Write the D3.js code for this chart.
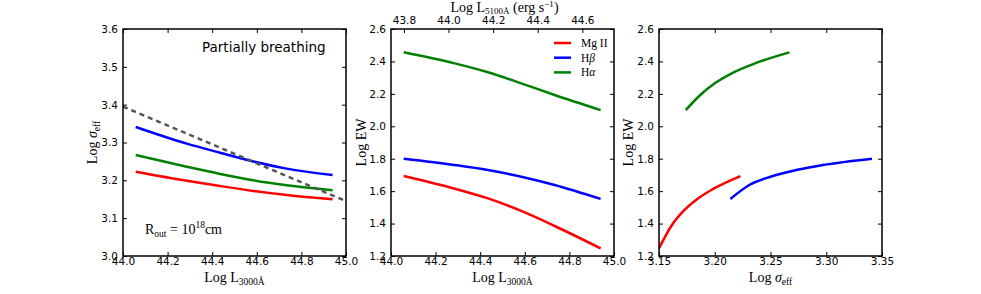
<!DOCTYPE html>
<html>
<head>
<meta charset="utf-8">
<script src="https://cdn.jsdelivr.net/npm/d3@7"></script>
<style>
  body { margin: 0; background: #fff; }
  .tick text { font-family: "DejaVu Sans", sans-serif; font-size: 10.5px; fill: #000; }
  .tick line { stroke: #000; stroke-width: 1; }
  .lbl { font-family: "Liberation Serif", serif; fill: #000; }
</style>
</head>
<body>
<div id="chart"></div>
<script>
// shared luminosity grid (Log L3000)
var logL = [44.057, 44.286, 44.435, 44.584, 44.734, 44.94];

// Log sigma_eff for each line
var sigmaMg = [3.223, 3.199, 3.185, 3.172, 3.161, 3.150];
var sigmaHb = [3.341, 3.297, 3.273, 3.250, 3.231, 3.214];
var sigmaHa = [3.267, 3.236, 3.217, 3.200, 3.187, 3.174];

// Log EW for each line
var ewMg = [1.693, 1.615, 1.555, 1.478, 1.385, 1.247];
var ewHb = [1.800, 1.761, 1.730, 1.689, 1.638, 1.552];
var ewHa = [2.456, 2.388, 2.333, 2.265, 2.193, 2.100];

// dashed reference relation in panel 1
var dashL = [44.0, 45.0];
var dashSigma = [3.395, 3.145];

var lineNames = ["Mg II", "H\u03b2", "H\u03b1"];
var lineColors = ["#ff0000", "#0000ff", "#008000"];

var ticksL = [44.0, 44.2, 44.4, 44.6, 44.8, 45.0];
var ticksL5100 = [43.8, 44.0, 44.2, 44.4, 44.6];
var ticksSigmaY = [3.0, 3.1, 3.2, 3.3, 3.4, 3.5, 3.6];
var ticksEW = [1.2, 1.4, 1.6, 1.8, 2.0, 2.2, 2.4, 2.6];
var ticksSigmaX = [3.15, 3.20, 3.25, 3.30, 3.35];

var W = 981, H = 294;
var top0 = 29, ph = 227, pw = 223;
var lefts = [123, 391, 659];

var svg = d3.select("#chart").append("svg")
    .attr("width", W)
    .attr("height", H);

var sigmas = [sigmaMg, sigmaHb, sigmaHa];
var ews = [ewMg, ewHb, ewHa];

function panel(i, xDom, yDom) {
    var g = svg.append("g").attr("transform", "translate(" + lefts[i] + "," + top0 + ")");
    var x = d3.scaleLinear().domain(xDom).range([0, pw]);
    var y = d3.scaleLinear().domain(yDom).range([ph, 0]);
    g.append("clipPath").attr("id", "clip" + i)
      .append("rect").attr("width", pw).attr("height", ph);
    return {g: g, x: x, y: y};
}

function axes(p, xt, yt, xf, yf, topTicks) {
    p.g.append("g")
        .attr("transform", "translate(0," + ph + ")")
        .call(d3.axisBottom(p.x).tickValues(xt).tickSize(-4).tickPadding(2).tickFormat(xf))
        .call(function(a) { a.select(".domain").remove(); });
    p.g.append("g")
        .call(d3.axisLeft(p.y).tickValues(yt).tickSize(-4).tickPadding(5).tickFormat(yf))
        .call(function(a) { a.select(".domain").remove(); });
    if (topTicks) {
        p.g.append("g")
            .call(d3.axisTop(p.x).tickValues(xt).tickSize(-4).tickFormat(""))
            .call(function(a) { a.select(".domain").remove(); });
    }
    p.g.append("g")
        .attr("transform", "translate(" + pw + ",0)")
        .call(d3.axisRight(p.y).tickValues(yt).tickSize(-4).tickFormat(""))
        .call(function(a) { a.select(".domain").remove(); });
}

function frame(p) {
    p.g.append("rect")
        .attr("width", pw).attr("height", ph)
        .attr("fill", "none")
        .attr("stroke", "#000")
        .attr("stroke-width", 1.5);
}

function curve(p, i, xs, ys, color) {
    var pts = xs.map(function(v, k) { return [v, ys[k]]; })
        .sort(function(a, b) { return a[0] - b[0]; });
    var line = d3.line()
        .x(function(d) { return p.x(d[0]); })
        .y(function(d) { return p.y(d[1]); })
        .curve(d3.curveMonotoneX);
    p.g.append("path")
        .attr("clip-path", "url(#clip" + i + ")")
        .attr("d", line(pts))
        .attr("fill", "none")
        .attr("stroke", color)
        .attr("stroke-width", 2.5);
}

// label with subscript, e.g. "Log L" + "3000Å"
function subLabel(sel, main, sub) {
    sel.append("tspan").text(main);
    sel.append("tspan").attr("dy", 3).attr("font-size", 9.5).text(sub);
}

var f1 = d3.format(".1f"), f2 = d3.format(".2f");

// ---- panel 1: sigma vs L3000
var p1 = panel(0, [44.0, 45.0], [3.0, 3.6]);
sigmas.forEach(function(s, k) { curve(p1, 0, logL, s, lineColors[k]); });
p1.g.append("path")
    .attr("d", d3.line()(dashL.map(function(v, k) { return [p1.x(v), p1.y(dashSigma[k])]; })))
    .attr("fill", "none")
    .attr("stroke", "#555")
    .attr("stroke-width", 2.5)
    .attr("stroke-dasharray", "5,4");
axes(p1, ticksL, ticksSigmaY, f1, f1, true);
frame(p1);

p1.g.append("text")
    .attr("x", 79).attr("y", 23)
    .attr("font-family", "DejaVu Sans, sans-serif")
    .attr("font-size", 13.5)
    .text("Partially breathing");

var rt = p1.g.append("text").attr("class", "lbl")
    .attr("x", 22).attr("y", 205)
    .attr("font-size", 14);
rt.append("tspan").text("R");
rt.append("tspan").attr("dy", 3).attr("font-size", 9.5).text("out");
rt.append("tspan").attr("dy", -3).text(" = 10");
rt.append("tspan").attr("dy", -6).attr("font-size", 9.5).text("18");
rt.append("tspan").attr("dy", 6).text("cm");

// ---- panel 2: EW vs L3000
var p2 = panel(1, [44.0, 45.0], [1.2, 2.6]);
ews.forEach(function(e, k) { curve(p2, 1, logL, e, lineColors[k]); });
axes(p2, ticksL, ticksEW, f1, f1, false);
var x5100 = d3.scaleLinear().domain([43.742, 44.742]).range([0, pw]);
p2.g.append("g")
    .call(d3.axisTop(x5100).tickValues(ticksL5100).tickSize(-4).tickPadding(5).tickFormat(f1))
    .call(function(a) { a.select(".domain").remove(); });
frame(p2);

// legend
var leg = p2.g.append("g").attr("transform", "translate(163,14)");
lineNames.forEach(function(n, k) {
    leg.append("line")
        .attr("x1", 0).attr("x2", 17)
        .attr("y1", k * 14.7).attr("y2", k * 14.7)
        .attr("stroke", lineColors[k]).attr("stroke-width", 2.5);
    var t = leg.append("text").attr("class", "lbl")
        .attr("x", 27).attr("y", k * 14.7 + 4)
        .attr("font-size", 11.5);
    if (k === 0) t.text(n);
    else {
        t.append("tspan").text("H");
        t.append("tspan").attr("font-style", "italic").text(n.slice(1));
    }
});

// top axis title
var tt = svg.append("text").attr("class", "lbl")
    .attr("x", lefts[1] + pw / 2 + 2).attr("y", 12)
    .attr("text-anchor", "middle")
    .attr("font-size", 14);
tt.append("tspan").text("Log L");
tt.append("tspan").attr("dy", 2).attr("font-size", 9).text("5100\u00c5");
tt.append("tspan").attr("dy", -2).text(" (erg s");
tt.append("tspan").attr("dy", -5).attr("font-size", 9).text("\u22121");
tt.append("tspan").attr("dy", 5).text(")");

// ---- panel 3: EW vs sigma
var p3 = panel(2, [3.15, 3.35], [1.2, 2.6]);
ews.forEach(function(e, k) { curve(p3, 2, sigmas[k], e, lineColors[k]); });
axes(p3, ticksSigmaX, ticksEW, f2, f1, true);
frame(p3);

// axis titles
[0, 1].forEach(function(i) {
    var t = svg.append("text").attr("class", "lbl")
        .attr("x", lefts[i] + pw / 2).attr("y", 282)
        .attr("text-anchor", "middle")
        .attr("font-size", 14);
    subLabel(t, "Log L", "3000\u00c5");
});
var xs3 = svg.append("text").attr("class", "lbl")
    .attr("x", lefts[2] + pw / 2).attr("y", 282)
    .attr("text-anchor", "middle")
    .attr("font-size", 14);
xs3.append("tspan").text("Log ");
xs3.append("tspan").attr("font-style", "italic").text("\u03c3");
xs3.append("tspan").attr("dy", 3).attr("font-size", 9.5).text("eff");

var ylabX = [97, 366, 633];
ylabX.forEach(function(xx, i) {
    var t = svg.append("text").attr("class", "lbl")
        .attr("transform", "translate(" + xx + "," + (top0 + ph / 2) + ") rotate(-90)")
        .attr("text-anchor", "middle")
        .attr("font-size", 14);
    if (i === 0) {
        t.append("tspan").text("Log ");
        t.append("tspan").attr("font-style", "italic").text("\u03c3");
        t.append("tspan").attr("dy", 3).attr("font-size", 9.5).text("eff");
    } else {
        t.text("Log EW");
    }
});
</script>
</body>
</html>
